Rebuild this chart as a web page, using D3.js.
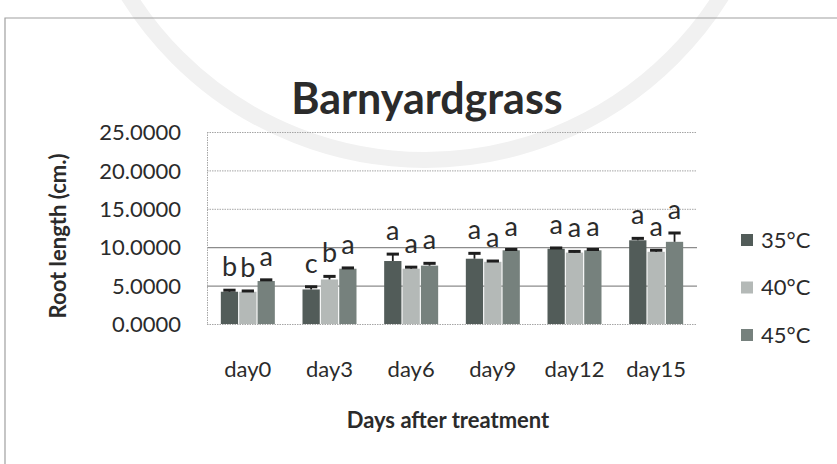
<!DOCTYPE html>
<html>
<head>
<meta charset="utf-8">
<script src="https://cdn.jsdelivr.net/npm/d3@7"></script>
<style>
  body { margin: 0; background: #fff; }
  svg text { font-family: Lato, "Open Sans", sans-serif; fill: #2b2b2b; }
</style>
</head>
<body>
<svg id="chart" width="837" height="464"></svg>
<script>
// data
const days = ['day0', 'day3', 'day6', 'day9', 'day12', 'day15'];
const series = ['35°C', '40°C', '45°C'];
const temp35 = [4.2, 4.5, 8.2, 8.5, 9.8, 10.9];
const temp40 = [4.2, 5.8, 7.2, 8.1, 9.3, 9.4];
const temp45 = [5.6, 7.2, 7.6, 9.6, 9.6, 10.7];
const err35 = [0.2, 0.35, 0.9, 0.7, 0.1, 0.25];
const err40 = [0.1, 0.4, 0.2, 0.1, 0.15, 0.2];
const err45 = [0.15, 0.1, 0.3, 0.1, 0.1, 1.15];
const letters35 = ['b', 'c', 'a', 'a', 'a', 'a'];
const letters40 = ['b', 'b', 'a', 'a', 'a', 'a'];
const letters45 = ['a', 'a', 'a', 'a', 'a', 'a'];
const yTicks = [0, 5, 10, 15, 20, 25];

const colors = ['#525c59', '#b4b9b7', '#76817d'];

const values = [temp35, temp40, temp45];
const errors = [err35, err40, err45];
const letters = [letters35, letters40, letters45];

const svg = d3.select('#chart');

// faint scan watermark ring
svg.append('circle')
    .attr('cx', 425).attr('cy', -190).attr('r', 350)
    .attr('fill', 'none')
    .attr('stroke', '#f1f1f1')
    .attr('stroke-width', 16);

// outer frame (only top and left edges are visible)
svg.append('path')
    .attr('d', 'M5,464V18H837')
    .attr('fill', 'none')
    .attr('stroke', '#a0a0a0')
    .attr('stroke-width', 1.2);

const plot = {left: 207, right: 697, top: 132, bottom: 324};

const x0 = d3.scaleBand().domain(days).range([plot.left, plot.right]);
const groupW = 54;
const x1 = d3.scaleBand().domain(series).range([0, groupW]).paddingInner(0.06);
const y = d3.scaleLinear().domain([0, 25]).range([plot.bottom, plot.top]);

// grid
const grid = svg.append('g').attr('class', 'grid');
grid.selectAll('line')
    .data(yTicks)
    .enter().append('line')
    .attr('x1', plot.left).attr('x2', plot.right)
    .attr('y1', d => y(d) + 0.5).attr('y2', d => y(d) + 0.5)
    .attr('stroke', d => (d === 5 || d === 10) ? '#8c8c8c' : '#a5a5a5')
    .attr('stroke-width', d => (d === 5 || d === 10) ? 1.3 : 1)
    .attr('stroke-dasharray', d => (d === 5 || d === 10) ? null : '1.5,1');

svg.append('line')
    .attr('x1', plot.left + 0.5).attr('x2', plot.left + 0.5)
    .attr('y1', plot.top).attr('y2', plot.bottom)
    .attr('stroke', '#a5a5a5')
    .attr('stroke-dasharray', '1.5,1');

// y axis labels
const yAxis = d3.axisLeft(y).tickValues(yTicks).tickFormat(d3.format('.4f')).tickSize(0).tickPadding(0);
svg.append('g')
    .attr('transform', `translate(181,0)`)
    .call(yAxis)
    .call(g => g.select('.domain').remove())
    .selectAll('text')
    .style('font-size', '22px')
    .attr('fill', '#2b2b2b')
    .attr('dy', '0.35em');

// x axis labels
const xAxis = d3.axisBottom(x0).tickSize(0).tickPadding(0);
svg.append('g')
    .attr('transform', `translate(0,${plot.bottom})`)
    .call(xAxis)
    .call(g => g.select('.domain').remove())
    .selectAll('text')
    .style('font-size', '22px')
    .attr('fill', '#2b2b2b')
    .attr('y', 53)
    .attr('dy', 0);

// bars
const rows = [];
days.forEach((day, i) => {
    series.forEach((s, j) => {
        rows.push({day, s, j, v: values[j][i], e: errors[j][i], l: letters[j][i]});
    });
});

const barX = d => x0(d.day) + (x0.bandwidth() - groupW) / 2 + x1(d.s);

svg.append('g').attr('class', 'bars')
    .selectAll('rect')
    .data(rows)
    .enter().append('rect')
    .attr('x', barX)
    .attr('y', d => y(d.v))
    .attr('width', x1.bandwidth())
    .attr('height', d => y(0) - y(d.v))
    .attr('fill', d => colors[d.j]);

// error bars
const errG = svg.append('g').attr('class', 'errors');
errG.selectAll('line.stem')
    .data(rows)
    .enter().append('line')
    .attr('class', 'stem')
    .attr('x1', d => barX(d) + x1.bandwidth() / 2)
    .attr('x2', d => barX(d) + x1.bandwidth() / 2)
    .attr('y1', d => y(d.v))
    .attr('y2', d => y(d.v + d.e))
    .attr('stroke', '#1e1e1e')
    .attr('stroke-width', 1.8);

errG.selectAll('line.cap')
    .data(rows)
    .enter().append('line')
    .attr('class', 'cap')
    .attr('x1', d => barX(d) + 2.5)
    .attr('x2', d => barX(d) + x1.bandwidth() - 2.5)
    .attr('y1', d => y(d.v + d.e))
    .attr('y2', d => y(d.v + d.e))
    .attr('stroke', '#1e1e1e')
    .attr('stroke-width', 3);

// significance letters
svg.append('g').attr('class', 'letters')
    .selectAll('text')
    .data(rows)
    .enter().append('text')
    .attr('x', d => barX(d) + x1.bandwidth() / 2)
    .attr('y', d => y(d.v + d.e) - 14)
    .attr('text-anchor', 'middle')
    .style('font-size', '27px')
    .text(d => d.l);

// title
svg.append('text')
    .attr('x', 427).attr('y', 114)
    .attr('text-anchor', 'middle')
    .style('font-size', '43px')
    .style('font-weight', 'bold')
    .text('Barnyardgrass');

// axis titles
svg.append('text')
    .attr('transform', 'translate(66,236) rotate(-90)')
    .attr('text-anchor', 'middle')
    .style('font-size', '22px')
    .style('font-weight', 'bold')
    .text('Root length (cm.)');

svg.append('text')
    .attr('x', 448).attr('y', 428)
    .attr('text-anchor', 'middle')
    .style('font-size', '22px')
    .style('font-weight', 'bold')
    .text('Days after treatment');

// legend
const legend = svg.append('g').attr('class', 'legend')
    .selectAll('g')
    .data(series)
    .enter().append('g')
    .attr('transform', (d, i) => `translate(741,${240 + i * 47.5})`);

legend.append('rect')
    .attr('x', 0).attr('y', -6)
    .attr('width', 12).attr('height', 12)
    .attr('fill', (d, i) => colors[i]);

legend.append('text')
    .attr('x', 20).attr('y', 0)
    .attr('dy', '0.35em')
    .style('font-size', '22px')
    .text(d => d);
</script>
</body>
</html>
